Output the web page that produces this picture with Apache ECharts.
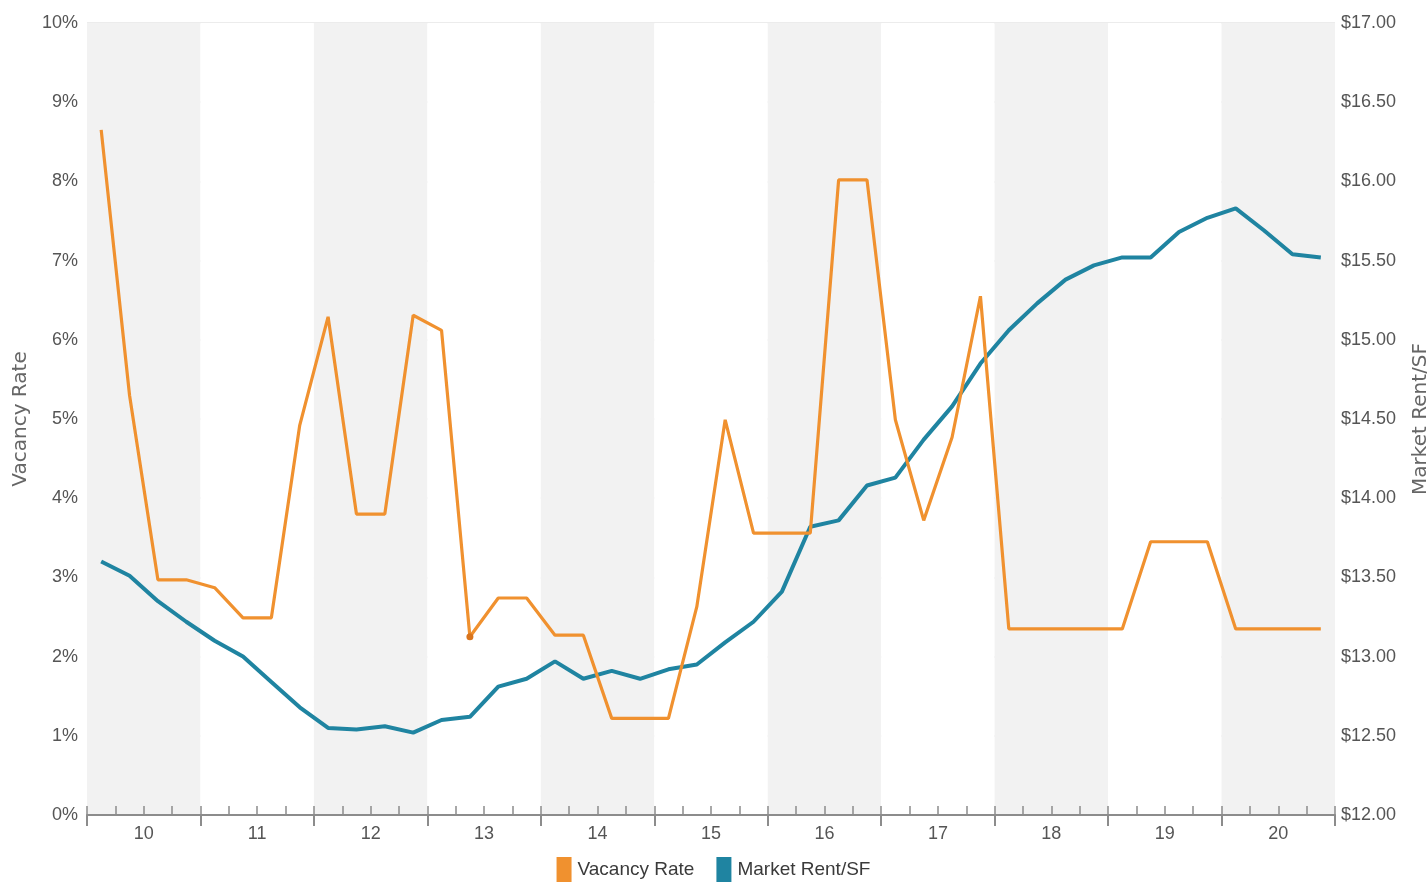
<!DOCTYPE html>
<html>
<head>
<meta charset="utf-8">
<title>Vacancy Rate &amp; Market Rent/SF</title>
<script src="https://cdn.jsdelivr.net/npm/echarts@6/dist/echarts.min.js"></script>
<style>
  html, body { margin: 0; padding: 0; background: #ffffff; }
  #chart { width: 1427px; height: 885px; }
</style>
</head>
<body>
<div id="chart"></div>
<script>
// Years shown on the axis (two-digit), each split into four quarters
const years = ['10', '11', '12', '13', '14', '15', '16', '17', '18', '19', '20'];

// Vacancy rate by quarter, in percent (10 Q1 .. 20 Q4)
const vacancyRate = [
  8.65, 5.30, 2.97, 2.97,
  2.87, 2.49, 2.49, 4.92,
  6.29, 3.80, 3.80, 6.31,
  6.12, 2.25, 2.74, 2.74,
  2.27, 2.27, 1.22, 1.22,
  1.22, 2.63, 4.99, 3.56,
  3.56, 3.56, 8.02, 8.02,
  4.99, 3.72, 4.77, 6.55,
  2.35, 2.35, 2.35, 2.35,
  2.35, 3.45, 3.45, 3.45,
  2.35, 2.35, 2.35, 2.35
];

// Market rent per square foot by quarter, in dollars
const marketRent = [
  13.60, 13.51, 13.35, 13.22,
  13.10, 13.00, 12.84, 12.68,
  12.55, 12.54, 12.56, 12.52,
  12.60, 12.62, 12.81, 12.86,
  12.97, 12.86, 12.91, 12.86,
  12.92, 12.95, 13.09, 13.22,
  13.41, 13.82, 13.86, 14.08,
  14.13, 14.37, 14.58, 14.85,
  15.06, 15.23, 15.38, 15.47,
  15.52, 15.52, 15.68, 15.77,
  15.83, 15.69, 15.54, 15.52
];

// Quarter with a highlighted point on the vacancy line
const highlightedQuarter = 13;

const quarters = [];
years.forEach(function (y) {
  for (let q = 1; q <= 4; q++) quarters.push(y + ' Q' + q);
});

const ORANGE = '#f0912f';
const TEAL = '#1f84a1';
const AXIS_GRAY = '#8c8c8c';
const LABEL_GRAY = '#555555';
const LABEL_FONT = '"Liberation Sans Narrow", "Liberation Sans", Arial, sans-serif';

const vacancyData = vacancyRate.map(function (v, i) {
  if (i === highlightedQuarter) {
    return {
      value: v,
      symbol: 'circle',
      symbolSize: 7,
      itemStyle: { color: '#d9741c' }
    };
  }
  return v;
});

const chart = echarts.init(document.getElementById('chart'), null, { renderer: 'canvas' });

chart.setOption({
  animation: false,
  backgroundColor: '#ffffff',
  grid: { left: 87, right: 92, top: 23, bottom: 70, containLabel: false, outerBoundsMode: 'none' },
  legend: {
    bottom: -2,
    left: 'center',
    itemWidth: 15,
    itemHeight: 25,
    itemGap: 22,
    icon: 'rect',
    textStyle: { fontFamily: LABEL_FONT, fontSize: 19, color: '#3a3a3a', padding: [0, 0, 0, 1] },
    data: ['Vacancy Rate', 'Market Rent/SF']
  },
  xAxis: [
    {
      // quarterly axis: carries the data and the short quarter ticks
      type: 'category',
      data: quarters,
      boundaryGap: true,
      position: 'bottom',
      axisLine: { show: true, lineStyle: { color: AXIS_GRAY, width: 2 } },
      axisTick: { show: true, inside: true, length: 9, interval: 0, lineStyle: { color: AXIS_GRAY, width: 1.5 } },
      axisLabel: { show: false },
      splitLine: { show: false }
    },
    {
      // yearly axis: year labels, long year ticks and alternating bands
      type: 'category',
      data: years,
      boundaryGap: true,
      position: 'bottom',
      axisLine: { show: false },
      axisTick: { show: true, inside: false, length: 11, interval: 0, lineStyle: { color: AXIS_GRAY, width: 2 } },
      axisLabel: { show: true, interval: 0, fontFamily: LABEL_FONT, fontSize: 18, color: LABEL_GRAY, margin: 10 },
      splitLine: { show: false },
      splitArea: { show: true, interval: 0, areaStyle: { color: ['#f2f2f2', '#ffffff'] } }
    }
  ],
  yAxis: [
    {
      type: 'value',
      min: 0,
      max: 10,
      interval: 1,
      position: 'left',
      name: 'Vacancy Rate',
      nameLocation: 'middle',
      nameGap: 53,
      nameRotate: 90,
      nameTextStyle: { fontFamily: '"DejaVu Sans", sans-serif', fontSize: 20, color: '#666666' },
      axisLine: { show: false },
      axisTick: { show: false },
      axisLabel: { formatter: '{value}%', fontFamily: LABEL_FONT, fontSize: 18, color: LABEL_GRAY, margin: 9 },
      splitLine: { show: true, lineStyle: { color: '#e6e6e6', width: 1.5 } }
    },
    {
      type: 'value',
      min: 12,
      max: 17,
      interval: 0.5,
      position: 'right',
      name: 'Market Rent/SF',
      nameLocation: 'middle',
      nameGap: 76,
      nameRotate: 90,
      nameTextStyle: { fontFamily: '"DejaVu Sans", sans-serif', fontSize: 20, color: '#666666' },
      axisLine: { show: false },
      axisTick: { show: false },
      axisLabel: {
        formatter: function (v) { return '$' + v.toFixed(2); },
        fontFamily: LABEL_FONT, fontSize: 18, color: LABEL_GRAY, margin: 6
      },
      splitLine: { show: false }
    }
  ],
  series: [
    {
      name: 'Vacancy Rate',
      type: 'line',
      xAxisIndex: 0,
      yAxisIndex: 0,
      data: vacancyData,
      symbol: 'none',
      color: ORANGE,
      lineStyle: { color: ORANGE, width: 3.2 },
      itemStyle: { color: ORANGE },
      z: 3
    },
    {
      name: 'Market Rent/SF',
      type: 'line',
      xAxisIndex: 0,
      yAxisIndex: 1,
      data: marketRent,
      symbol: 'none',
      color: TEAL,
      lineStyle: { color: TEAL, width: 4 },
      itemStyle: { color: TEAL },
      z: 2
    }
  ]
});
</script>
</body>
</html>
